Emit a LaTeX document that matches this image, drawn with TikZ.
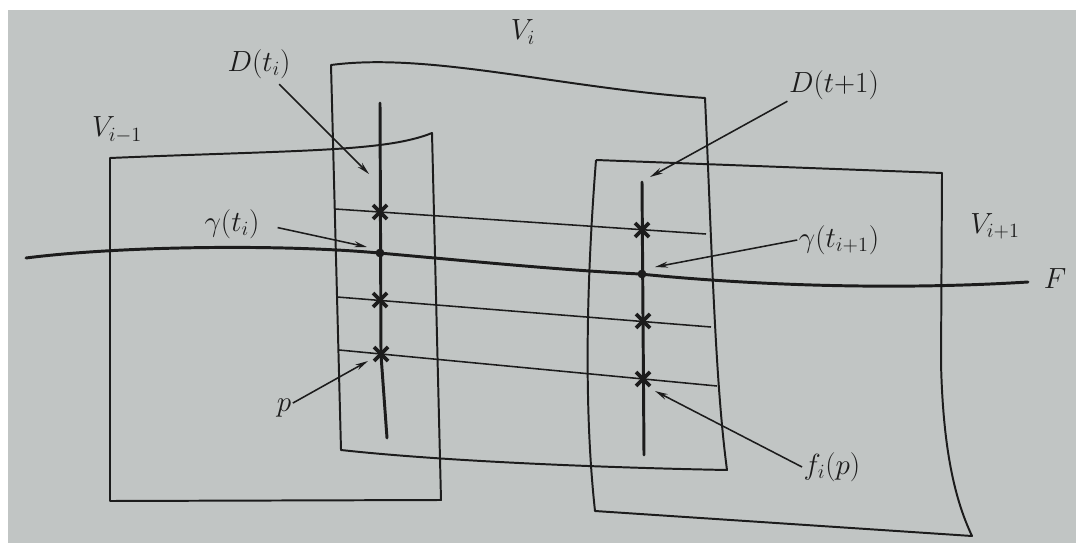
\documentclass[tikz,border=0pt]{standalone}
\usepackage{tikz}
\usetikzlibrary{arrows.meta}
\definecolor{paper}{RGB}{193,197,196}
\definecolor{ink}{RGB}{28,28,28}

\begin{document}
\begin{tikzpicture}[x=0.025cm, y=-0.025cm, >={Stealth[length=3.2mm, width=1.5mm]},
  every node/.style={font=\fontsize{21}{25}\selectfont, text=ink, inner sep=1pt},
  sheet/.style={draw=ink, line width=1.4pt, line join=round},
  fibre/.style={draw=ink, line width=2.1pt, line cap=round},
  leaf/.style={draw=ink, line width=1.1pt},
  pointer/.style={->, draw=ink, line width=1.1pt},
  starmark/.style={draw=ink, line width=2.6pt}]
  \useasboundingbox (0,0) rectangle (1076,543);
  \fill[white] (0,0) rectangle (1076,543);
  \fill[paper] (8,10) rectangle (1076,543);

  % the three charts
  \draw[sheet] (110,158) .. controls (300,150) and (385,152) .. (432,133)
    -- (441,500) -- (110,501) -- cycle;
  \draw[sheet] (331,65) .. controls (430,52) and (560,88) .. (705,98)
    .. controls (712,250) and (715,380) .. (727,470)
    .. controls (620,468) and (450,462) .. (341,450) -- cycle;
  \draw[sheet] (596,160) -- (942,173) -- (941,363)
    .. controls (943,450) and (955,500) .. (972,536) -- (595,511)
    .. controls (585,420) and (585,300) .. (596,160);

  % leaf F
  \draw[fibre] (26,258) .. controls (120,246) and (280,244) .. (379,253)
    .. controls (480,262) and (560,270) .. (640,274)
    .. controls (760,286) and (900,290) .. (1028,282);

  % transversal discs
  \draw[fibre] (380,103) -- (381,355) -- (387,438);
  \draw[fibre] (642,182) -- (644,455);

  % plaques
  \draw[leaf] (335,209) -- (706,234);
  \draw[leaf] (337,297) -- (711,327);
  \draw[leaf] (339,350) -- (717,386);

  \coordinate (sl1) at (380,212);
  \coordinate (sl2) at (380,300);
  \coordinate (sl3) at (381,354);
  \coordinate (sr1) at (642,230);
  \coordinate (sr2) at (643,321);
  \coordinate (sr3) at (643,379);
  \coordinate (gl) at (380,253);
  \coordinate (gr) at (642,274);

  \foreach \c in {sl1,sl2,sl3,sr1,sr2,sr3}
    \draw[starmark] ([shift={(-7,-7)}]\c) -- ([shift={(7,7)}]\c)
                    ([shift={(-7,7)}]\c) -- ([shift={(7,-7)}]\c);
  \fill[ink] (gl) circle (1.1mm);
  \fill[ink] (gr) circle (1.1mm);

  % labels
  \node (vprev) at (117,130) {$V_{i-1}$};
  \node (vcur) at (523,32) {$V_i$};
  \node (vnext) at (995,226) {$V_{i+1}$};
  \node (fol) at (1055,279) {$F$};
  \node (dti) at (259,64) {$D(t_i)$};
  \node (dtn) at (834,85) {$D(t{+}1)$};
  \node (gti) at (232,224) {$\gamma(t_i)$};
  \node (gtn) at (839,240) {$\gamma(t_{i+1})$};
  \node (pt) at (284,408) {$p$};
  \node (fip) at (832,467) {$f_i(p)$};

  \coordinate (dtiend) at (369,174);
  \coordinate (gtiend) at (367,247);
  \coordinate (ptend) at (368,361);
  \coordinate (dtnend) at (650,177);
  \coordinate (gtnend) at (655,267);
  \coordinate (fipend) at (655,391);

  \draw[pointer, shorten <=4pt] (dti) -- (dtiend);
  \draw[pointer, shorten <=12pt] (gti.east) -- (gtiend);
  \draw[pointer] (pt) -- (ptend);
  \draw[pointer] (dtn.south west) -- (dtnend);
  \draw[pointer] (gtn.west) -- (gtnend);
  \draw[pointer] (fip.west) -- (fipend);
\end{tikzpicture}
\end{document}
